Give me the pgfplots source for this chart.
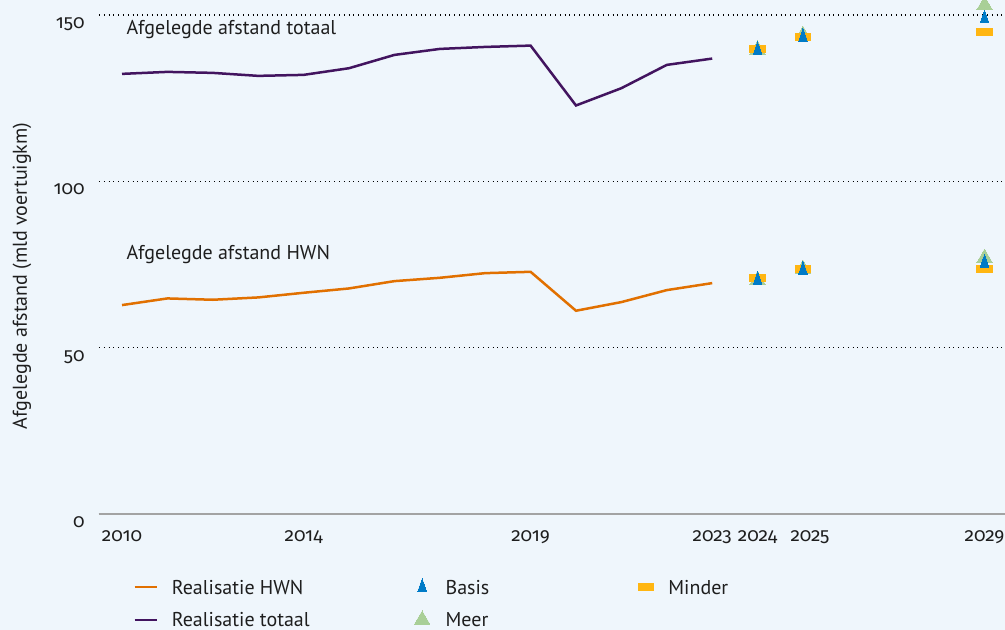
\documentclass[border=0pt]{standalone}
\usepackage{fontspec}
\setmainfont{PT Sans}
\newfontfamily\tickfont[Numbers=OldStyle]{Fira Sans}
\usepackage{pgfplots}
\usepackage{pgfplotstable}
\pgfplotsset{compat=1.18}

\definecolor{achtergrond}{HTML}{EFF6FC}
\definecolor{oranje}{HTML}{E17000}
\definecolor{violet}{HTML}{42145F}
\definecolor{basisblauw}{HTML}{007BC7}
\definecolor{meergroen}{HTML}{A9CF97}
\definecolor{mindergeel}{HTML}{FFB612}
\definecolor{asgrijs}{HTML}{A3A3A3}
\definecolor{tekst}{HTML}{1E1E1E}

% realisatie (mld voertuigkm)
\pgfplotstableread{
jaar hwn  totaal
2010 62.8 132.3
2011 64.8 132.9
2012 64.4 132.6
2013 65.1 131.7
2014 66.5 132.0
2015 67.8 134.0
2016 70.0 138.0
2017 71.0 139.8
2018 72.4 140.4
2019 72.8 140.8
2020 61.1 122.8
2021 63.7 128.0
2022 67.3 135.0
2023 69.4 136.9
}\realisatie

% prognoses
\pgfplotstableread{
jaar hwn  totaal
2024 70.3 139.4
2025 73.4 143.4
2029 75.5 148.9
}\basis
\pgfplotstableread{
jaar hwn  totaal
2024 70.3 139.5
2025 73.6 143.9
2029 76.9 152.9
}\meer
\pgfplotstableread{
jaar hwn  totaal
2024 71.0 139.9
2025 73.6 143.3
2029 73.6 145.0
}\minder

\pgfplotsset{
  lijnleg/.style={legend image code/.code={\draw[##1,line width=1.2pt] (0pt,0pt) -- (11pt,0pt);}},
  markleg/.style={legend image code/.code={\path (0pt,0pt) (11pt,0pt); \draw[##1] plot coordinates {(5.5pt,0pt)};}},
  basisstijl/.style={only marks, color=basisblauw, mark=triangle*, mark size=4.2pt, mark options={xscale=0.6, line width=0pt}},
  meerstijl/.style={only marks, color=meergroen, mark=triangle*, mark size=4.5pt, mark options={line width=0pt}},
  minderstijl/.style={only marks, color=mindergeel, mark=square*, mark size=3.9pt, mark options={yscale=0.44, line width=0pt}},
}

\begin{document}
\begin{tikzpicture}
\fill[achtergrond] (-49.5pt,-58pt) rectangle (453pt,257pt);
\begin{axis}[
  scale only axis,
  width=453pt, height=249.5pt,
  xmin=2009.493, xmax=2029.45,
  ymin=0, ymax=150,
  clip=false,
  axis x line*=bottom, axis y line*=left,
  x axis line style={draw=asgrijs, line width=1pt, -},
  y axis line style={draw=none},
  major tick length=0pt,
  xtick={2010,2014,2019,2023,2024,2025,2029},
  xticklabels={2010,2014,{2019\hspace{5pt}},{2023\hspace{8pt}},2024,{\hspace{7pt}2025},2029},
  ytick={0,50,100,150},
  yticklabels={0,50,100,150},
  ymajorgrids,
  grid style={black, dotted, line width=0.6pt},
  tick label style={font=\tickfont\fontsize{9.5}{11}\selectfont, text=tekst, inner sep=0pt},
  xticklabel style={anchor=base, yshift=-13.5pt},
  yticklabel style={anchor=base east, xshift=-7pt, yshift=-6.8pt},
  ylabel={Afgelegde afstand (mld voertuigkm)},
  ylabel style={at={(axis description cs:-0.085,0.477)}, anchor=center, font=\fontsize{10}{12}\selectfont, text=tekst},
  legend columns=3,
  legend cell align=left,
  legend style={at={(axis description cs:0.0309,-0.118)}, anchor=north west,
    draw=none, fill=none, nodes={inner sep=0pt}, column sep=0pt, row sep=6.5pt,
    font=\fontsize{10}{12}\selectfont, text=tekst},
]

\addplot[oranje, line width=1.25pt, forget plot] table[x=jaar, y=hwn] {\realisatie};
\addplot[violet, line width=1.25pt, forget plot] table[x=jaar, y=totaal] {\realisatie};

\addplot[meerstijl, forget plot] table[x=jaar, y=totaal] {\meer};
\addplot[meerstijl, forget plot] table[x=jaar, y=hwn] {\meer};
\addplot[minderstijl, forget plot] table[x=jaar, y=totaal] {\minder};
\addplot[minderstijl, forget plot] table[x=jaar, y=hwn] {\minder};
\addplot[basisstijl, forget plot] table[x=jaar, y=totaal] {\basis};
\addplot[basisstijl, forget plot] table[x=jaar, y=hwn] {\basis};

\node[anchor=base west, inner sep=0pt, text=tekst, font=\fontsize{10}{12}\selectfont]
  at (axis cs:2010.09,144.0) {Afgelegde afstand totaal};
\node[anchor=base west, inner sep=0pt, text=tekst, font=\fontsize{10}{12}\selectfont]
  at (axis cs:2010.09,76.55) {Afgelegde afstand HWN};

\addlegendimage{lijnleg, oranje}
\addlegendentry{\makebox[126.5pt][l]{\hspace{7pt}Realisatie HWN\strut}}
\addlegendimage{markleg, basisstijl}
\addlegendentry{\makebox[100.5pt][l]{\hspace{6pt}Basis\strut}}
\addlegendimage{markleg, minderstijl}
\addlegendentry{\hspace{5.5pt}Minder\strut}
\addlegendimage{lijnleg, violet}
\addlegendentry{\makebox[126.5pt][l]{\hspace{7pt}Realisatie totaal\strut}}
\addlegendimage{markleg, meerstijl}
\addlegendentry{\makebox[100.5pt][l]{\hspace{6pt}Meer\strut}}
\end{axis}
\pgfresetboundingbox
\useasboundingbox (-49.5pt,-58pt) rectangle (453pt,257pt);
\end{tikzpicture}
\end{document}
